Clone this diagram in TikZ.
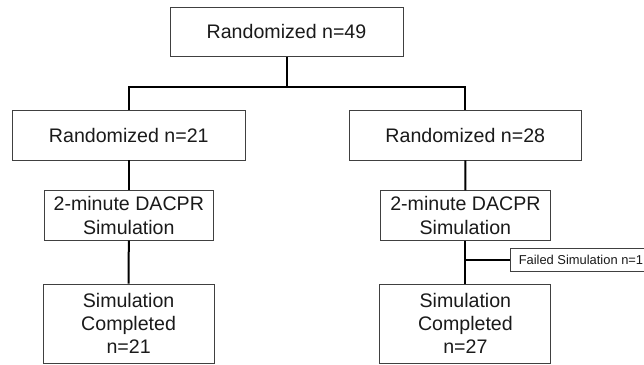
\documentclass[tikz,border=0pt]{standalone}
\usepackage{fontspec}
\setmainfont{Liberation Sans}
\definecolor{boxline}{HTML}{404040}
\definecolor{txt}{HTML}{1A1A1A}
\begin{document}
\begin{tikzpicture}[x=1pt,y=-1pt,
  box/.style={draw=boxline, line width=0.9pt, rectangle, inner sep=0pt, align=center,
    text=txt, font=\fontsize{19.6}{23.2}\selectfont},
  conn/.style={draw=black, line width=2pt},
  small/.style={draw=boxline, line width=0.9pt, rectangle, inner xsep=8pt, inner ysep=0pt,
    minimum height=23.4pt, text=txt, font=\fontsize{12.9}{15}\selectfont, anchor=west}]
\useasboundingbox (0,0) rectangle (644,364);
\fill[white] (0,0) rectangle (644,364);
\node[box, minimum width=233pt, minimum height=48.7pt] (top) at (286.5,31.7) {Randomized n=49};
\node[box, minimum width=232.3pt, minimum height=49.3pt] (l2) at (128.8,135.3) {Randomized n=21};
\node[box, minimum width=232pt, minimum height=49.3pt] (r2) at (465.3,135.3) {Randomized n=28};
\node[box, minimum width=168.5pt, minimum height=49.5pt] (l3) at (128.8,215.5) {2-minute DACPR\\Simulation};
\node[box, minimum width=170.4pt, minimum height=49.5pt] (r3) at (465.4,215.5) {2-minute DACPR\\Simulation};
\node[box, minimum width=171pt, minimum height=79pt] (l4) at (128.6,323.5) {Simulation\\Completed\\n=21};
\node[box, minimum width=171pt, minimum height=79pt] (r4) at (465.4,323.5) {Simulation\\Completed\\n=27};
\node[small] (fail) at (510.3,260) {Failed Simulation n=1};
\coordinate (j) at (286.5,87.3);
\draw[conn] (top.south) -- (j);
\draw[conn] (l2.north) |- (j) -| (r2.north);
\draw[conn] (l2.south) -- (l3.north);
\draw[conn] (r2.south) -- (r3.north);
\draw[conn] (l3.south) -- (l4.north);
\draw[conn] (r3.south) -- (r4.north);
\coordinate (fj) at (r3.south |- fail.west);
\draw[conn] (fj) -- (fail.west);
\end{tikzpicture}
\end{document}
